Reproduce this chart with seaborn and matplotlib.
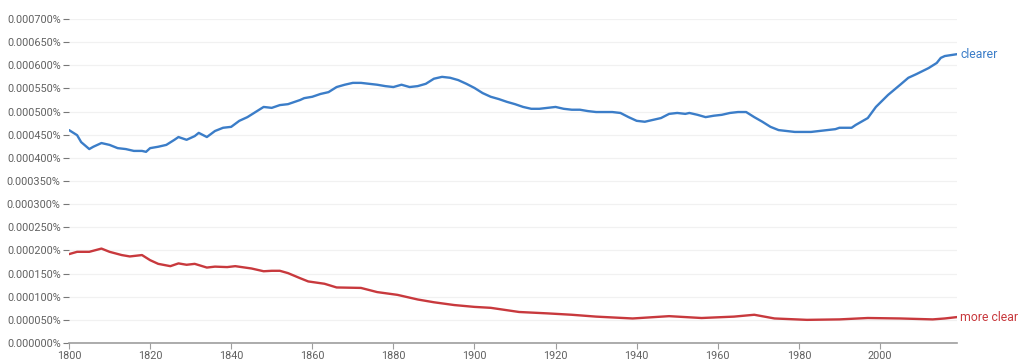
import pandas as pd
import numpy as np
import matplotlib
matplotlib.use("Agg")
import matplotlib.pyplot as plt
import seaborn as sns
from matplotlib.ticker import FuncFormatter, MultipleLocator

# values are in percent
clearer_years = [1800, 1802, 1803, 1805, 1806, 1808, 1810, 1812, 1814, 1816, 1818, 1819,
                 1820, 1822, 1824, 1826, 1827, 1829, 1831, 1832, 1834, 1836, 1838, 1840,
                 1842, 1844, 1846, 1848, 1850, 1852, 1854, 1857, 1858, 1860, 1862, 1864,
                 1866, 1868, 1870, 1872, 1874, 1876, 1878, 1880, 1882, 1884, 1886, 1888,
                 1890, 1892, 1894, 1896, 1898, 1900, 1902, 1904, 1906, 1908, 1910, 1912,
                 1914, 1916, 1918, 1920, 1922, 1924, 1926, 1928, 1930, 1932, 1934, 1936,
                 1938, 1940, 1942, 1944, 1946, 1948, 1950, 1952, 1953, 1955, 1957, 1959,
                 1961, 1963, 1965, 1967, 1969, 1971, 1973, 1975, 1977, 1979, 1981, 1983,
                 1985, 1987, 1989, 1990, 1993, 1994, 1997, 1999, 2002, 2005, 2007, 2009,
                 2012, 2014, 2015, 2016, 2019]
clearer_vals = [0.000460, 0.000449, 0.000434, 0.000419, 0.000424, 0.000432, 0.000428,
                0.000421, 0.000419, 0.000415, 0.000415, 0.000413, 0.000421, 0.000424,
                0.000428, 0.000439, 0.000445, 0.000439, 0.000447, 0.000454, 0.000445,
                0.000458, 0.000465, 0.000467, 0.000480, 0.000488, 0.000499, 0.000510,
                0.000508, 0.000514, 0.000516, 0.000525, 0.000529, 0.000532, 0.000538,
                0.000542, 0.000553, 0.000558, 0.000562, 0.000562, 0.000560, 0.000558,
                0.000555, 0.000553, 0.000558, 0.000553, 0.000555, 0.000560, 0.000571,
                0.000575, 0.000573, 0.000568, 0.000560, 0.000551, 0.000540, 0.000532,
                0.000527, 0.000521, 0.000516, 0.000510, 0.000506, 0.000506, 0.000508,
                0.000510, 0.000506, 0.000504, 0.000504, 0.000501, 0.000499, 0.000499,
                0.000499, 0.000497, 0.000488, 0.000480, 0.000478, 0.000482, 0.000486,
                0.000495, 0.000497, 0.000495, 0.000497, 0.000493, 0.000488, 0.000491,
                0.000493, 0.000497, 0.000499, 0.000499, 0.000488, 0.000478, 0.000467,
                0.000460, 0.000458, 0.000456, 0.000456, 0.000456, 0.000458, 0.000460,
                0.000462, 0.000465, 0.000465, 0.000471, 0.000486, 0.000510, 0.000536,
                0.000558, 0.000573, 0.000581, 0.000594, 0.000605, 0.000616, 0.000620,
                0.000624]

more_clear_years = [1800, 1802, 1805, 1808, 1810, 1813, 1815, 1818, 1820, 1822, 1825,
                    1827, 1829, 1831, 1834, 1836, 1839, 1841, 1845, 1848, 1850, 1852,
                    1854, 1857, 1859, 1863, 1866, 1872, 1876, 1881, 1886, 1890, 1895,
                    1900, 1904, 1911, 1918, 1924, 1930, 1939, 1948, 1956, 1964, 1969,
                    1974, 1982, 1990, 1997, 2005, 2013, 2016, 2019]
more_clear_vals = [0.000192, 0.000197, 0.000197, 0.000204, 0.000197, 0.000190, 0.000187,
                   0.000190, 0.000179, 0.000171, 0.000166, 0.000172, 0.000169, 0.000171,
                   0.000163, 0.000165, 0.000164, 0.000166, 0.000161, 0.000155, 0.000156,
                   0.000156, 0.000151, 0.000140, 0.000133, 0.000128, 0.000120, 0.000119,
                   0.000110, 0.000104, 0.000094, 0.000088, 0.000082, 0.000078, 0.000076,
                   0.000067, 0.000064, 0.000061, 0.000057, 0.000053, 0.000058, 0.000054,
                   0.000057, 0.000061, 0.000053, 0.000050, 0.000051, 0.000054, 0.000053,
                   0.000051, 0.000053, 0.000056]

series_names = ["clearer", "more clear"]
colors = ["#3b7dc8", "#c8393d"]

df = pd.concat([
    pd.DataFrame({"year": clearer_years, "value": clearer_vals, "ngram": "clearer"}),
    pd.DataFrame({"year": more_clear_years, "value": more_clear_vals, "ngram": "more clear"}),
])

sns.set_style("white")
plt.rcParams["font.family"] = ["Roboto", "DejaVu Sans"]

fig = plt.figure(figsize=(10.24, 3.6), dpi=100)
ax = fig.add_axes([69 / 1024, 17 / 360, (957 - 69) / 1024, 324 / 360])

sns.lineplot(data=df, x="year", y="value", hue="ngram", palette=colors,
             hue_order=series_names, linewidth=1.7, legend=False, ax=ax)

ax.set_xlim(1800, 2019)
ax.set_ylim(0, 0.0007)
ax.yaxis.set_major_locator(MultipleLocator(0.00005))
ax.xaxis.set_major_locator(MultipleLocator(20))
ax.yaxis.set_major_formatter(FuncFormatter(lambda v, p: f"{v:.6f}%"))
ax.grid(axis="y", color="#f1f1f1", linewidth=0.9)
ax.set_axisbelow(True)
ax.set_xlabel("")
ax.set_ylabel("")

for s in ["top", "right", "left"]:
    ax.spines[s].set_visible(False)
ax.spines["bottom"].set_color("#9e9e9e")
ax.spines["bottom"].set_linewidth(1.2)

ax.tick_params(axis="y", length=4, width=0.8, color="#777777", labelcolor="#616161",
               labelsize=7.8, pad=2, left=True)
ax.tick_params(axis="x", length=4, width=0.8, color="#9e9e9e", labelcolor="#616161",
               labelsize=7.8, pad=2, bottom=True)

ax.text(clearer_years[-1] + 0.8, clearer_vals[-1], "clearer", color=colors[0],
        fontsize=8.8, va="center", ha="left", clip_on=False)
ax.text(more_clear_years[-1] + 0.8, more_clear_vals[-1], "more clear", color=colors[1],
        fontsize=8.8, va="center", ha="left", clip_on=False)

fig.savefig("out.png", dpi=100)
